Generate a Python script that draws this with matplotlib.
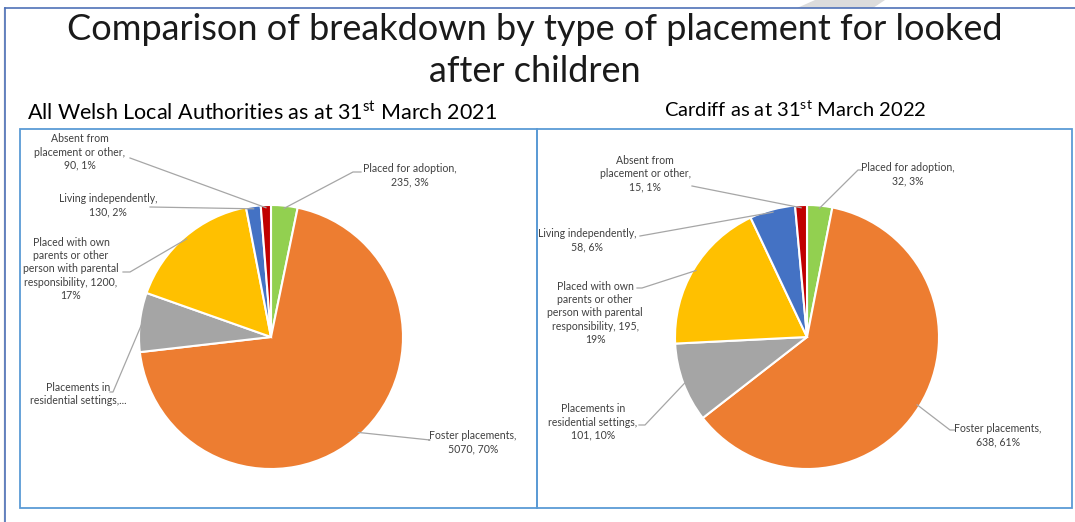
import numpy as np
import matplotlib
matplotlib.use('Agg')
import matplotlib.pyplot as plt
from matplotlib.patches import Rectangle, Polygon
from matplotlib.lines import Line2D

plt.rcParams['font.family'] = ['Lato', 'DejaVu Sans']
plt.rcParams['mathtext.fontset'] = 'custom'
plt.rcParams['mathtext.rm'] = 'Lato'

# data
categories = ['Placed for adoption', 'Foster placements', 'Placements in residential settings',
              'Placed with own parents or other person with parental responsibility',
              'Living independently', 'Absent from placement or other']
wales_values = [235, 5070, 525, 1200, 130, 90]
cardiff_values = [32, 638, 101, 195, 58, 15]
colors = ['#92d050', '#ed7d31', '#a5a5a5', '#ffc000', '#4472c4', '#c00000']

wales_labels = ['Placed for adoption,\n235, 3%', 'Foster placements,\n5070, 70%',
                'Placements in\nresidential settings,...',
                'Placed with own\nparents or other\nperson with parental\nresponsibility, 1200,\n17%',
                'Living independently,\n130, 2%', 'Absent from\nplacement or other,\n90, 1%']
cardiff_labels = ['Placed for adoption,\n32, 3%', 'Foster placements,\n638, 61%',
                  'Placements in\nresidential settings,\n101, 10%',
                  'Placed with own\nparents or other\nperson with parental\nresponsibility, 195,\n19%',
                  'Living independently,\n58, 6%', 'Absent from\nplacement or other,\n15, 1%']

W, H = 1075, 522
fig = plt.figure(figsize=(W / 100, H / 100), dpi=100)
fig.patch.set_facecolor('white')


def fx(x):
    return x / W


def fy(y):
    return 1 - y / H


# slide decorations
fig.add_artist(Polygon([(fx(797), fy(8)), (fx(815), fy(0)), (fx(885), fy(0)), (fx(873), fy(8))],
                       closed=True, transform=fig.transFigure, facecolor='#dcdcdc', edgecolor='none'))
fig.add_artist(Line2D([fx(3.5), fx(3.5)], [fy(8), fy(522)], transform=fig.transFigure,
                      color='#d0d0d0', lw=1))
fig.add_artist(Line2D([fx(5), fx(5)], [fy(8), fy(522)], transform=fig.transFigure,
                      color='#4f72b8', lw=1.2))
fig.add_artist(Line2D([fx(5), fx(1075)], [fy(8), fy(8)], transform=fig.transFigure,
                      color='#4f72b8', lw=1.2))

# chart boxes
for x0, x1 in [(20, 537), (537, 1072)]:
    fig.add_artist(Rectangle((fx(x0), fy(508)), fx(x1 - x0), (508 - 129) / H,
                             transform=fig.transFigure, facecolor='none',
                             edgecolor='#5b9bd5', lw=1.3))

# titles
fig.text(fx(535), fy(29), 'Comparison of breakdown by type of placement for looked',
         ha='center', va='center', fontsize=26, color='#1a1a1a')
fig.text(fx(535), fy(71), 'after children', ha='center', va='center',
         fontsize=26, color='#1a1a1a')
fig.text(fx(262), fy(113), r'All Welsh Local Authorities as at 31$^{\mathrm{st}}$ March 2021',
         ha='center', va='center', fontsize=15.5, color='black')
fig.text(fx(795), fy(110), r'Cardiff as at 31$^{\mathrm{st}}$ March 2022',
         ha='center', va='center', fontsize=14.5, color='black')


def draw_pie(values, labels, cx, cy, r, label_pos, elbows, ends):
    ax = fig.add_axes([fx(cx - r), fy(cy + r), fx(2 * r), 2 * r / H])
    wedges, _ = ax.pie(values, colors=colors, startangle=90, counterclock=False,
                       radius=1, wedgeprops=dict(edgecolor='white', linewidth=1.5))
    ax.set_xlim(-1, 1)
    ax.set_ylim(-1, 1)
    ax.set_aspect('auto')
    ax.axis('off')
    for w, lab, pos, elb, end in zip(wedges, labels, label_pos, elbows, ends):
        mid = np.deg2rad((w.theta1 + w.theta2) / 2)
        px = cx + r * np.cos(mid) * 0.98
        py = cy - r * np.sin(mid) * 0.98
        fig.add_artist(Line2D([fx(px), fx(elb[0]), fx(end)], [fy(py), fy(elb[1]), fy(elb[1])],
                              transform=fig.transFigure, color='#a6a6a6', lw=0.9))
        fig.text(fx(pos[0]), fy(pos[1]), lab, ha='center', va='center', fontsize=7.6,
                 color='#404040', linespacing=1.25)


draw_pie(wales_values, wales_labels, 271, 337, 132,
         label_pos=[(410, 175), (473, 442), (78, 394), (71, 269), (108, 205), (80, 152)],
         elbows=[(353, 172), (430, 440), (113, 392), (130, 272), (150, 207), (130, 158)],
         ends=[361, 429, 110, 123, 150, 130])

draw_pie(cardiff_values, cardiff_labels, 807, 337, 132,
         label_pos=[(908, 174), (998, 435), (593, 422), (595, 313), (587, 240), (645, 174)],
         elbows=[(858, 170), (950, 430), (645, 425), (642, 288), (640, 236), (692, 186)],
         ends=[862, 955, 639, 637, 640, 692])

fig.savefig('out.png', dpi=100, facecolor='white')
